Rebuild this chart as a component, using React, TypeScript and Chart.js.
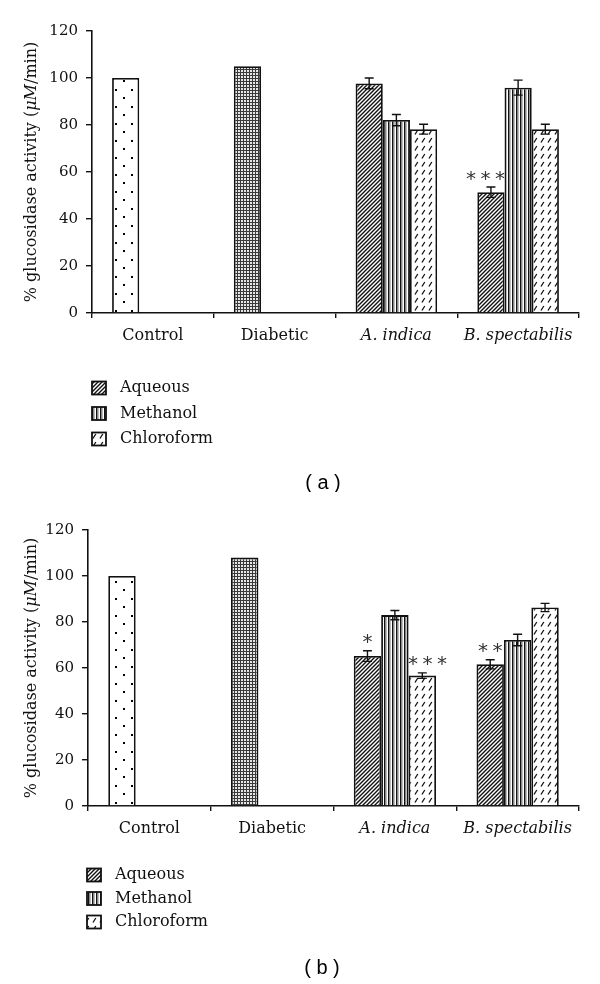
import React, { useEffect, useRef } from 'react';
import { Chart, registerables } from 'chart.js';

Chart.register(...registerables);

// ---------- data ----------
const categories = ['Control', 'Diabetic', 'A. indica', 'B. spectabilis'];
const seriesNames = ['Aqueous', 'Methanol', 'Chloroform'];
const yTickMax = 120;
const yTickStep = 20;

// panel (a)
const aControl = [100, null, null, null];
const aDiabetic = [null, 105, null, null];
const aAqueous = [null, null, 97.7, 51.4];
const aMethanol = [null, null, 82.1, 95.9];
const aChloroform = [null, null, 78.2, 78.2];
const aAqueousErr = [0, 0, 2.3, 2.2];
const aMethanolErr = [0, 0, 2.4, 3.2];
const aChloroformErr = [0, 0, 2.1, 2.1];
const aAqueousSig = ['', '', '', '***'];
const aMethanolSig = ['', '', '', ''];
const aChloroformSig = ['', '', '', ''];

// panel (b)
const bControl = [100, null, null, null];
const bDiabetic = [null, 108, null, null];
const bAqueous = [null, null, 65.2, 61.6];
const bMethanol = [null, null, 83.0, 72.2];
const bChloroform = [null, null, 56.7, 86.3];
const bAqueousErr = [0, 0, 2.3, 2.0];
const bMethanolErr = [0, 0, 2.0, 2.5];
const bChloroformErr = [0, 0, 1.2, 1.8];
const bAqueousSig = ['', '', '*', '**'];
const bMethanolSig = ['', '', '', ''];
const bChloroformSig = ['', '', '***', ''];

const SERIF = 'DejaVu Serif';
const INK = '#111';

// ---------- patterns ----------
function tile(w: number, h: number, draw: (c: CanvasRenderingContext2D) => void) {
  const cv = document.createElement('canvas');
  cv.width = w;
  cv.height = h;
  const c = cv.getContext('2d')!;
  c.fillStyle = '#fff';
  c.fillRect(0, 0, w, h);
  draw(c);
  return cv;
}

function makePatterns(ctx: CanvasRenderingContext2D) {
  const dots = tile(16, 17, (c) => {
    c.fillStyle = '#000';
    c.fillRect(3, 4, 2, 2);
    c.fillRect(11, 12, 2, 2);
  });
  const grid = tile(3, 3, (c) => {
    c.fillStyle = '#e6e6e6';
    c.fillRect(0, 0, 3, 3);
    c.fillStyle = '#3a3a3a';
    c.fillRect(0, 0, 3, 1);
    c.fillRect(0, 0, 1, 3);
  });
  const diag = tile(4, 4, (c) => {
    c.strokeStyle = '#111';
    c.lineWidth = 1.4;
    c.beginPath();
    c.moveTo(-1, 5);
    c.lineTo(5, -1);
    c.moveTo(-1, 1);
    c.lineTo(1, -1);
    c.moveTo(3, 5);
    c.lineTo(5, 3);
    c.stroke();
  });
  const vert = tile(4, 2, (c) => {
    c.fillStyle = '#111';
    c.fillRect(0, 0, 1.5, 2);
    c.fillStyle = '#bdbdbd';
    c.fillRect(2, 0, 1, 2);
  });
  const dash = tile(7, 8, (c) => {
    c.strokeStyle = '#111';
    c.lineWidth = 1.3;
    c.beginPath();
    c.moveTo(2, 6.5);
    c.lineTo(4.8, 2);
    c.stroke();
  });
  return {
    dots: ctx.createPattern(dots, 'repeat')!,
    grid: ctx.createPattern(grid, 'repeat')!,
    diag: ctx.createPattern(diag, 'repeat')!,
    vert: ctx.createPattern(vert, 'repeat')!,
    dash: ctx.createPattern(dash, 'repeat')!,
  };
}

// ---------- plugin ----------
const decorPlugin = {
  id: 'decor',
  afterDatasetsDraw(chart: any) {
    const ctx: CanvasRenderingContext2D = chart.ctx;
    const ys = chart.scales.y;
    const dsets = chart.data.datasets;
    dsets.forEach((ds: any, di: number) => {
      if (!ds.errors) return;
      const meta = chart.getDatasetMeta(di);
      meta.data.forEach((el: any, i: number) => {
        const v = ds.data[i];
        if (v == null) return;
        const e = ds.errors[i] || 0;
        const x = el.x;
        const capY = ys.getPixelForValue(v + e);
        if (e > 0) {
          const yb = ys.getPixelForValue(v - e);
          ctx.save();
          ctx.strokeStyle = INK;
          ctx.lineWidth = 1.4;
          ctx.beginPath();
          ctx.moveTo(x, capY);
          ctx.lineTo(x, yb);
          ctx.moveTo(x - 4.5, capY);
          ctx.lineTo(x + 4.5, capY);
          ctx.moveTo(x - 4.5, yb);
          ctx.lineTo(x + 4.5, yb);
          ctx.stroke();
          ctx.restore();
        }
        const s: string = (ds.sig && ds.sig[i]) || '';
        if (s) {
          const n = s.length;
          const spacing = 14.5;
          const textW = (n - 1) * spacing + 9;
          let shift = 0;
          if (textW > el.width) {
            const over = (textW - el.width) / 2;
            const right = dsets[di + 1] && dsets[di + 1].data[i];
            const left = dsets[di - 1] && dsets[di - 1].data[i];
            if (right != null && right > v) shift = -over;
            else if (left != null && left > v) shift = over;
          }
          ctx.save();
          ctx.font = '20px "DejaVu Sans"';
          ctx.fillStyle = '#333';
          ctx.textAlign = 'center';
          ctx.textBaseline = 'alphabetic';
          const m = ctx.measureText('*');
          const cy = capY - 12;
          const dy = cy + (m.actualBoundingBoxAscent - m.actualBoundingBoxDescent) / 2;
          const cx0 = x + shift - ((n - 1) * spacing) / 2;
          for (let k = 0; k < n; k++) ctx.fillText('*', cx0 + k * spacing, dy);
          ctx.restore();
        }
      });
    });
  },
  afterDraw(chart: any, _a: any, opts: any) {
    const ctx: CanvasRenderingContext2D = chart.ctx;
    const area = chart.chartArea;
    // y-axis title with italic unit
    ctx.save();
    ctx.translate(opts.yTitleX, (area.top + area.bottom) / 2);
    ctx.rotate(-Math.PI / 2);
    ctx.fillStyle = INK;
    ctx.textBaseline = 'middle';
    ctx.textAlign = 'left';
    const segs: [string, string][] = [
      ['% glucosidase activity (', `16px "${SERIF}"`],
      ['\u03BCM', `italic 16px "${SERIF}"`],
      ['/min)', `16px "${SERIF}"`],
    ];
    let total = 0;
    const widths = segs.map(([t, f]) => {
      ctx.font = f;
      const w = ctx.measureText(t).width;
      total += w;
      return w;
    });
    let px = -total / 2;
    segs.forEach(([t, f], k) => {
      ctx.font = f;
      ctx.fillText(t, px, 0);
      px += widths[k];
    });
    ctx.restore();

    // legend
    const lg = opts.legend;
    ctx.save();
    seriesNames.forEach((name, k) => {
      const ds = chart.data.datasets[2 + k];
      const cy = lg.y0 + k * lg.dy;
      ctx.fillStyle = ds.backgroundColor;
      ctx.fillRect(lg.x, cy - 6.5, 14, 13);
      ctx.strokeStyle = INK;
      ctx.lineWidth = 1.8;
      ctx.strokeRect(lg.x, cy - 6.5, 14, 13);
      ctx.fillStyle = INK;
      ctx.font = `16px "${SERIF}"`;
      ctx.textAlign = 'left';
      ctx.textBaseline = 'middle';
      ctx.fillText(name, lg.x + 28, cy);
    });
    ctx.restore();

    // caption
    ctx.save();
    ctx.fillStyle = '#000';
    ctx.font = '20px "Liberation Sans"';
    ctx.textAlign = 'center';
    ctx.textBaseline = 'middle';
    ctx.fillText(opts.caption.text, opts.caption.x, opts.caption.y);
    ctx.restore();
  },
};

// ---------- chart builder ----------
function buildChart(canvas: HTMLCanvasElement, p: any) {
  const ctx = canvas.getContext('2d')!;
  const pat = makePatterns(ctx);
  const common = { borderColor: INK, borderWidth: 1.8, categoryPercentage: 0.67, barPercentage: 1.0 };
  return new Chart(ctx, {
    type: 'bar',
    data: {
      labels: categories,
      datasets: [
        { label: 'Control', data: p.control, stack: 'g1', backgroundColor: pat.dots, ...common },
        { label: 'Diabetic', data: p.diabetic, stack: 'g1', backgroundColor: pat.grid, ...common },
        { label: seriesNames[0], data: p.aqueous, stack: 'g1', backgroundColor: pat.diag, errors: p.aqueousErr, sig: p.aqueousSig, ...common },
        { label: seriesNames[1], data: p.methanol, stack: 'g2', backgroundColor: pat.vert, errors: p.methanolErr, sig: p.methanolSig, ...common },
        { label: seriesNames[2], data: p.chloroform, stack: 'g3', backgroundColor: pat.dash, errors: p.chloroformErr, sig: p.chloroformSig, ...common },
      ] as any,
    },
    options: {
      responsive: false,
      animation: false,
      layout: { padding: { left: 0, right: 21, top: p.padTop, bottom: p.padBottom } },
      plugins: {
        legend: { display: false },
        tooltip: { enabled: false },
        decor: { yTitleX: 32, legend: p.legend, caption: p.caption },
      } as any,
      scales: {
        x: {
          grid: { offset: true, drawOnChartArea: false, drawTicks: true, tickLength: 5, color: INK, lineWidth: 1.4 },
          border: { display: true, color: INK, width: 1.6 },
          ticks: {
            color: INK,
            padding: 8,
            font: (c: any) => ({ family: SERIF, size: 16, style: c.index >= 2 ? 'italic' : 'normal' }),
          },
          afterFit: (s: any) => { s.height = 40; },
        },
        y: {
          min: 0,
          max: yTickMax,
          grid: { drawOnChartArea: false, drawTicks: true, tickLength: 6, color: INK, lineWidth: 1.4 },
          border: { display: true, color: INK, width: 1.6 },
          ticks: { stepSize: yTickStep, color: INK, padding: 8, font: { family: SERIF, size: 15 } },
          afterFit: (s: any) => { s.width = p.axisLeft; },
        },
      },
    } as any,
    plugins: [decorPlugin as any],
  });
}

export default function App() {
  const refA = useRef<HTMLCanvasElement>(null);
  const refB = useRef<HTMLCanvasElement>(null);
  useEffect(() => {
    const ca = buildChart(refA.current!, {
      control: aControl, diabetic: aDiabetic, aqueous: aAqueous, methanol: aMethanol, chloroform: aChloroform,
      aqueousErr: aAqueousErr, methanolErr: aMethanolErr, chloroformErr: aChloroformErr,
      aqueousSig: aAqueousSig, methanolSig: aMethanolSig, chloroformSig: aChloroformSig,
      padTop: 31, padBottom: 139, axisLeft: 92,
      legend: { x: 92, y0: 388, dy: 25.5 },
      caption: { text: '( a )', x: 323, y: 483 },
    });
    const cb = buildChart(refB.current!, {
      control: bControl, diabetic: bDiabetic, aqueous: bAqueous, methanol: bMethanol, chloroform: bChloroform,
      aqueousErr: bAqueousErr, methanolErr: bMethanolErr, chloroformErr: bChloroformErr,
      aqueousSig: bAqueousSig, methanolSig: bMethanolSig, chloroformSig: bChloroformSig,
      padTop: 38, padBottom: 138, axisLeft: 88,
      legend: { x: 87, y0: 383, dy: 23.5 },
      caption: { text: '( b )', x: 322, y: 476 },
    });
    return () => {
      ca.destroy();
      cb.destroy();
    };
  }, []);
  return (
    <div style={{ position: 'absolute', left: 0, top: 0, width: 600, height: 984, background: '#fff' }}>
      <canvas ref={refA} width={600} height={492} style={{ position: 'absolute', left: 0, top: 0, width: 600, height: 492, display: 'block' }} />
      <canvas ref={refB} width={600} height={492} style={{ position: 'absolute', left: 0, top: 492, width: 600, height: 492, display: 'block' }} />
    </div>
  );
}
